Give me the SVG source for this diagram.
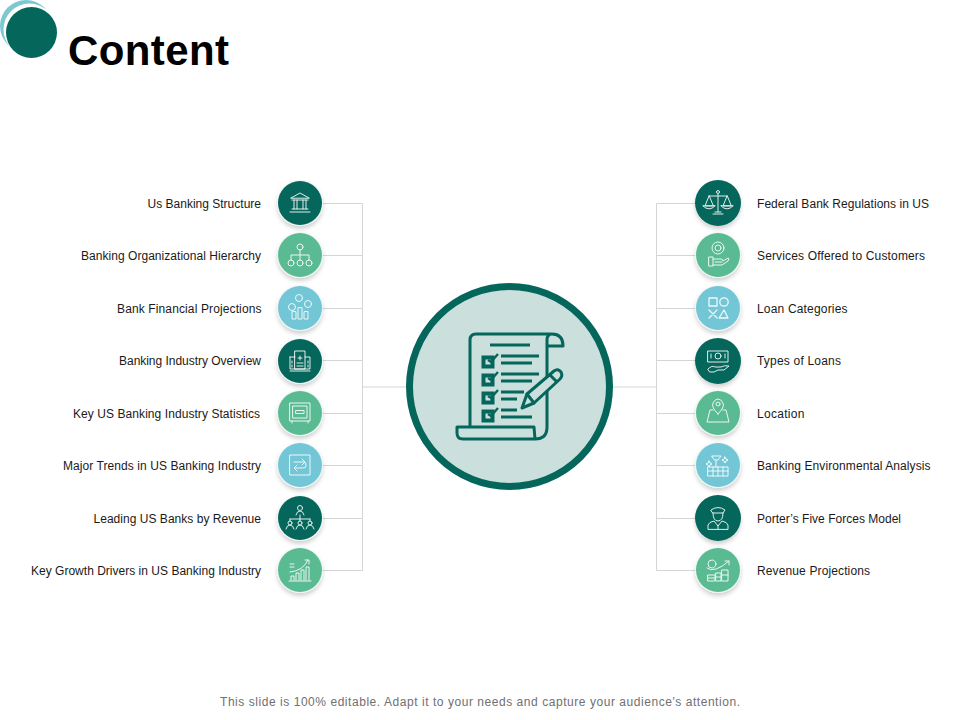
<svg xmlns="http://www.w3.org/2000/svg" width="960" height="720" viewBox="0 0 960 720">
<style>
text{font-family:"Liberation Sans",Arial,sans-serif;fill:#1a1a1a;font-size:12px}
.l{text-anchor:end}
.dark{fill:#05675c}.green{fill:#5abb92}.blue{fill:#72c6d5}
.i{fill:none;stroke:#fff;stroke-width:1;stroke-linejoin:round;stroke-linecap:round;opacity:.88}
.c{fill:none;stroke:#d4d6d6;stroke-width:1}
.p{fill:none;stroke:#05675c;stroke-width:3;stroke-linecap:round;stroke-linejoin:round}
.b{fill:none;stroke:#05675c;stroke-width:3;stroke-linecap:butt}
</style>
<defs>
<filter id="s" x="-30%" y="-30%" width="160%" height="170%"><feDropShadow dx="0" dy="3" stdDeviation="2.2" flood-color="#000" flood-opacity=".18"/></filter>
<circle id="disc" r="23" fill="#eef8f6" filter="url(#s)"/>
</defs>
<g id="header">
<circle cx="26" cy="26" r="26" fill="#7cc9d3"/>
<circle cx="29.500" cy="29.500" r="26" fill="#fff"/>
<circle cx="31.500" cy="32.500" r="25.500" fill="#05675c"/>
<text x="68" y="65" textLength="161" style="font-size:42px;font-weight:700;fill:#000">Content</text>
</g>
<g id="connectors" class="c">
<path d="M322 203.500H362.500V570.500H322M322 255.500H362.500M322 308.500H362.500M322 360.500H362.500M322 413.500H362.500M322 465.500H362.500M322 518.500H362.500M362.500 387H406"/>
<path d="M696 203.500H656.500V570.500H696M696 255.500H656.500M696 308.500H656.500M696 360.500H656.500M696 413.500H656.500M696 465.500H656.500M696 518.500H656.500M656.500 387H612"/>
</g>
<g id="center">
<circle cx="509.500" cy="386.500" r="100" fill="#cbdfdd" stroke="#05675c" stroke-width="7"/>
<path class="p" d="M470 427V340Q470 334 476 334H552Q563 334 563 346H547V340Q547 334 552 334M547 346V427Q547 439 535 439Q534 427 534 427H457V433Q457 439 463 439H535"/>
<path class="b" d="M490 345H530M501 356H539M501 363H532M501 374H539M501 381H532M501 392H524M501 399H517M501 410H517M501 417H532"/>
<g fill="none" stroke="#05675c" stroke-width="2.400">
<rect x="483.500" y="357.500" width="9" height="9" stroke-width="4"/><rect x="483.500" y="375.500" width="9" height="9" stroke-width="4"/><rect x="483.500" y="393.500" width="9" height="9" stroke-width="4"/><rect x="483.500" y="411.500" width="9" height="9" stroke-width="4"/>
<path d="M488 360l3 2 7-8M488 378l3 2 7-8M488 396l3 2 7-8M488 414l3 2 7-8"/>
</g>
<path class="p" d="M522 408L527 394L554 371Q558 368 561 372Q563 376 560 379L534 403Z" style="fill:#cbdfdd"/>
<path class="p" d="M527 394L534 403M550 375L556 381"/>
</g>
<g id="n1"><use href="#disc" x="300" y="203"/><circle class="dark" cx="300" cy="203" r="22"/><g class="i" transform="translate(300 203)"><path d="M-9-5L0-10L9-5ZM-8-3H8M-6-3V6M-3-3V6M3-3V6M6-3V6M-8 6H8M-10 9H10"/></g></g>
<text class="l" x="261" y="208" textLength="113.500">Us Banking Structure</text>
<g id="n2"><use href="#disc" x="300" y="255"/><circle class="green" cx="300" cy="255" r="22"/><g class="i" transform="translate(300 255)"><circle cx="0" cy="-8" r="3"/><circle cx="-9" cy="8" r="3"/><circle cx="0" cy="8" r="3"/><circle cx="9" cy="8" r="3"/><path d="M0-5V5M-9 5V0H9V5"/></g></g>
<text class="l" x="261" y="260" textLength="180">Banking Organizational Hierarchy</text>
<g id="n3"><use href="#disc" x="300" y="308"/><circle class="blue" cx="300" cy="308" r="22"/><g class="i" transform="translate(300 308)"><circle cx="-1" cy="-10" r="3.500"/><circle cx="-8" cy="-1" r="3.500"/><circle cx="8" cy="-4" r="3.500"/><path d="M-8 4V11H-4V4ZM-2 0V11H2V0ZM4 4V11H8V4Z"/></g></g>
<text class="l" x="261.500" y="313" textLength="144.500">Bank Financial Projections</text>
<g id="n4"><use href="#disc" x="300" y="361"/><circle class="dark" cx="300" cy="361" r="22"/><g class="i" transform="translate(300 361)"><path d="M-5-10H5V8H-5ZM-10-4H-5M5-4H10V8H-10V-4M-2-3H2M0-5V-1M-8 0V2M-8 4V6M8 0V2M8 4V6M-3 2H3M-3 5H3M-10 10H10"/></g></g>
<text class="l" x="261" y="365" textLength="142">Banking Industry Overview</text>
<g id="n5"><use href="#disc" x="300" y="413"/><circle class="green" cx="300" cy="413" r="22"/><g class="i" transform="translate(300 413)"><rect x="-10" y="-10" width="20" height="18"/><rect x="-7" y="-7" width="14" height="12"/><rect x="-4" y="-2.500" width="8" height="3"/><path d="M-8 8V10M8 8V10"/></g></g>
<text class="l" x="260" y="418" textLength="187">Key US Banking Industry Statistics</text>
<g id="n6"><use href="#disc" x="300" y="465"/><circle class="blue" cx="300" cy="465" r="22"/><g class="i" transform="translate(300 465)"><rect x="-10" y="-10" width="20" height="20"/><path d="M-6-3H4Q6-3 6 0V1Q6 3 3 3H-5M2-6L5-3L2 0M-3 0L-6 3L-3 6"/></g></g>
<text class="l" x="261" y="470" textLength="198">Major Trends in US Banking Industry</text>
<g id="n7"><use href="#disc" x="300" y="518"/><circle class="dark" cx="300" cy="518" r="22"/><g class="i" transform="translate(300 518)"><circle cx="0" cy="-10" r="2.500"/><path d="M-4-3Q-3-7 0-7Q3-7 4-3M0-3V1M-10 1H10M-10 1V3M10 1V3M0 1V3"/><circle cx="-10" cy="5" r="2"/><path d="M-14 11Q-13 7-10 7Q-7 7-6 11"/><circle cx="0" cy="5" r="2"/><path d="M-4 11Q-3 7 0 7Q3 7 4 11"/><circle cx="10" cy="5" r="2"/><path d="M6 11Q7 7 10 7Q13 7 14 11"/></g></g>
<text class="l" x="261" y="523" textLength="167.500">Leading US Banks by Revenue</text>
<g id="n8"><use href="#disc" x="300" y="570"/><circle class="green" cx="300" cy="570" r="22"/><g class="i" transform="translate(300 570)"><path d="M-10-6H-6M-10-3H-6M-10 2Q3 1 8-10M5-10H9V-6M-9 10V6H-6V10M-4 10V3H-1V10M1 10V0H4V10M6 10V-3H9V10M-11 11H11"/></g></g>
<text class="l" x="261" y="575" textLength="230">Key Growth Drivers in US Banking Industry</text>
<g id="n9"><use href="#disc" x="718" y="203"/><circle class="dark" cx="718" cy="203" r="23"/><g class="i" transform="translate(718 203)"><circle cx="0" cy="-11" r="1.500"/><path d="M0-9V9M-5 11H5M-3 9H3M-9-7H9M-9-7L-13 3H-5ZM-15 3Q-9 9-3 3ZM9-7L5 3H13ZM3 3Q9 9 15 3Z"/></g></g>
<text x="757" y="208" textLength="172">Federal Bank Regulations in US</text>
<g id="n10"><use href="#disc" x="718" y="255"/><circle class="green" cx="718" cy="255" r="22"/><g class="i" transform="translate(718 255)"><circle cx="0" cy="-7" r="3"/><circle cx="0" cy="-7" r="6"/><path d="M-9 2H-5V11H-9ZM-5 4H3Q5 4 5 6L10 3Q12 3 10 6L4 10H-5M-3 7H4"/></g></g>
<text x="757" y="260" textLength="168">Services Offered to Customers</text>
<g id="n11"><use href="#disc" x="718" y="308"/><circle class="blue" cx="718" cy="308" r="22"/><g class="i" style="stroke-width:1.300" transform="translate(718 308)"><rect x="-9" y="-10" width="8" height="8"/><circle cx="6" cy="-6" r="4.200"/><path d="M-9 2L-1 10M-1 2L-9 10M6 2L1 10H10Z"/></g></g>
<text x="757" y="313" textLength="90.500">Loan Categories</text>
<g id="n12"><use href="#disc" x="718" y="361"/><circle class="dark" cx="718" cy="361" r="23"/><g class="i" transform="translate(718 361)"><path d="M-10-10H10V1H-10ZM-8 11H-4L0 9H6L11 5Q6 4 3 6H-3Q-6 4-10 8Z"/><circle cx="0" cy="-5" r="3"/><path d="M-7-7V-3M7-7V-3"/></g></g>
<text x="757" y="365" textLength="84">Types of Loans</text>
<g id="n13"><use href="#disc" x="718" y="413"/><circle class="green" cx="718" cy="413" r="22"/><g class="i" transform="translate(718 413)"><path d="M0 1Q-7-6-5-10Q-3-14 0-14Q3-14 5-10Q7-6 0 1ZM-5-3H-8L-11 9H11L8-3H5"/><circle cx="0" cy="-9" r="2"/></g></g>
<text x="757" y="418" textLength="47.500">Location</text>
<g id="n14"><use href="#disc" x="718" y="465"/><circle class="blue" cx="718" cy="465" r="22"/><g class="i" transform="translate(718 465)"><path d="M-10 2H10V11H-10ZM-10 6H10M-5 2V11M0 2V11M5 2V11M-6-9H3L0-5H-3ZM-2-5V2M7-8L8-6L10-5L8-4L7-2L6-4L4-5L6-6ZM-9-4L-8-2L-6-1L-8 0L-9 2L-10 0L-12-1L-10-2Z"/></g></g>
<text x="757" y="470" textLength="173.500">Banking Environmental Analysis</text>
<g id="n15"><use href="#disc" x="718" y="518"/><circle class="dark" cx="718" cy="518" r="23"/><g class="i" transform="translate(718 518)"><path d="M-7-8Q0-13 7-8L5-5H-5ZM-5-5Q-5 3 0 3Q5 3 5-5M-10 11V7Q-9 4-4 3L0 8L4 3Q9 4 10 7V11ZM0 8V11"/></g></g>
<text x="757" y="523" textLength="144">Porter’s Five Forces Model</text>
<g id="n16"><use href="#disc" x="718" y="570"/><circle class="green" cx="718" cy="570" r="22"/><g class="i" transform="translate(718 570)"><circle cx="-6" cy="-6" r="4"/><path d="M-11-2Q-4 4 11-9M7-9H11V-5M-10 5H-3V11H-10ZM-2 3H3V11H-2ZM4 0H10V11H4ZM-10 8H-3M-2 7H3M4 5H10"/></g></g>
<text x="757" y="575" textLength="113">Revenue Projections</text>
<text id="footer" x="220" y="706" textLength="520" style="font-size:12px;fill:#707070">This slide is 100% editable. Adapt it to your needs and capture your audience's attention.</text>
</svg>
